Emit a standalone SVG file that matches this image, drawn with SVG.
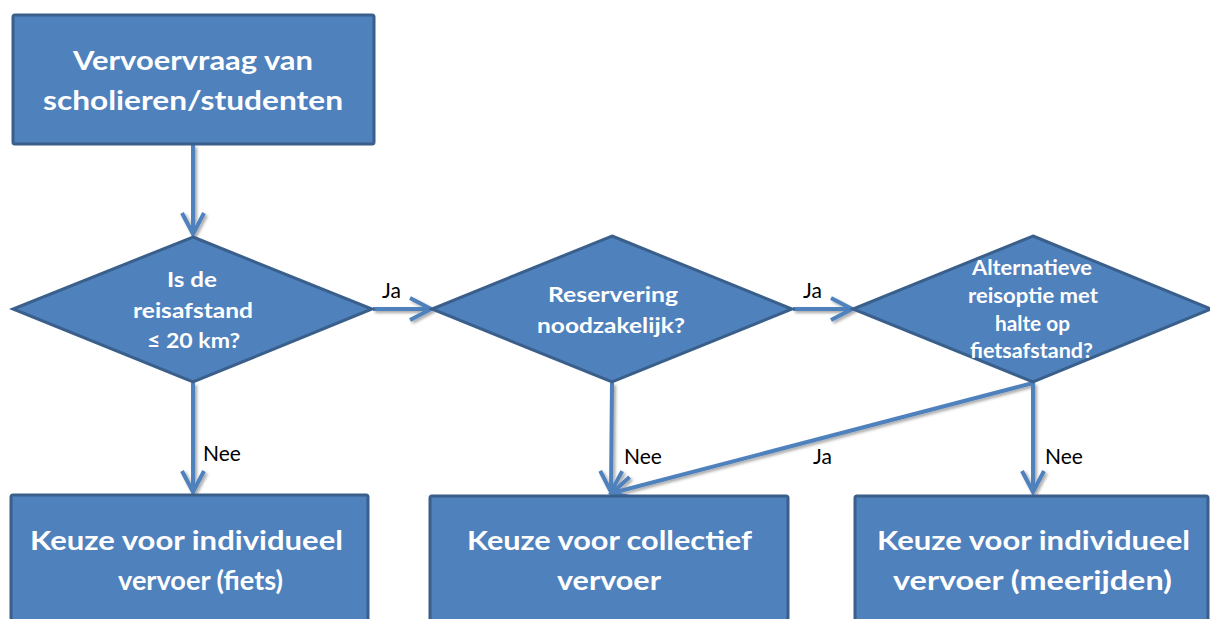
<svg xmlns="http://www.w3.org/2000/svg" width="1210" height="619" viewBox="0 0 1210 619">
  <style>
    .box { fill: #4F81BD; stroke: #3A5F8B; stroke-width: 3; }
    .lbl { font-family: Lato, "Liberation Sans", sans-serif; font-weight: 700; fill: #FFFFFF; }
    .big { font-size: 27px; }
    .mid { font-size: 20px; }
    .note { font-family: Lato, "Liberation Sans", sans-serif; font-size: 21px; fill: #000000; }
    .conn { fill: none; stroke: #4F81BD; stroke-width: 4; marker-end: url(#chev); }
  </style>
  <defs>
    <marker id="chev" markerUnits="userSpaceOnUse" viewBox="-26 -15 30 30" refX="0" refY="0" markerWidth="30" markerHeight="30" orient="auto">
      <path d="M-21,-11 L0,0 L-21,11" fill="none" stroke="#4F81BD" stroke-width="4" stroke-linejoin="miter"/>
    </marker>
    <filter id="shade" x="-20%" y="-20%" width="140%" height="140%">
      <feDropShadow dx="2" dy="2" stdDeviation="1.5" flood-color="#000000" flood-opacity="0.35"/>
    </filter>
  </defs>

  <rect width="1210" height="619" fill="#FFFFFF"/>

  <!-- connectors -->
  <g id="connectors" filter="url(#shade)">
    <path class="conn" d="M193,145 L193,234"/>
    <path class="conn" d="M373,309 L431,309"/>
    <path class="conn" d="M793,309 L852,309"/>
    <path class="conn" d="M193,383 L193,492"/>
    <path class="conn" d="M612,383 L611,492"/>
    <path class="conn" d="M1033,383 L612,493"/>
    <path class="conn" d="M1033,383 L1033,492"/>
  </g>

  <!-- connector labels -->
  <g id="labels">
    <text class="note" x="382" y="298">Ja</text>
    <text class="note" x="803" y="298">Ja</text>
    <text class="note" x="203" y="461">Nee</text>
    <text class="note" x="624" y="464">Nee</text>
    <text class="note" x="813" y="464">Ja</text>
    <text class="note" x="1045" y="464">Nee</text>
  </g>

  <g id="start">
    <rect class="box" x="13" y="15" width="361" height="129" rx="2"/>
    <text class="lbl big" x="73" y="70" textLength="240" lengthAdjust="spacingAndGlyphs">Vervoervraag van</text>
    <text class="lbl big" x="43" y="110" textLength="300" lengthAdjust="spacingAndGlyphs">scholieren/studenten</text>
  </g>

  <g id="afstand">
    <polygon class="box" points="193,237 372,309 193,382 13,309"/>
    <text class="lbl mid" x="167" y="287" textLength="50" lengthAdjust="spacingAndGlyphs">Is de</text>
    <text class="lbl mid" x="133" y="318" textLength="120" lengthAdjust="spacingAndGlyphs">reisafstand</text>
    <text class="lbl mid" x="147" y="348" textLength="93" lengthAdjust="spacingAndGlyphs">≤ 20 km?</text>
  </g>

  <g id="reservering">
    <polygon class="box" points="612,236 792,309 612,382 432,309"/>
    <text class="lbl mid" x="548" y="302" textLength="130" lengthAdjust="spacingAndGlyphs">Reservering</text>
    <text class="lbl mid" x="537" y="333" textLength="148" lengthAdjust="spacingAndGlyphs">noodzakelijk?</text>
  </g>

  <g id="alternatief">
    <polygon class="box" points="1033,236 1211,309 1033,382 853,309"/>
    <text class="lbl mid" x="972" y="275" textLength="120" lengthAdjust="spacingAndGlyphs">Alternatieve</text>
    <text class="lbl mid" x="968" y="303" textLength="130" lengthAdjust="spacingAndGlyphs">reisoptie met</text>
    <text class="lbl mid" x="995" y="331" textLength="75" lengthAdjust="spacingAndGlyphs">halte op</text>
    <text class="lbl mid" x="970" y="358" textLength="123" lengthAdjust="spacingAndGlyphs">fietsafstand?</text>
  </g>

  <g id="fiets">
    <rect class="box" x="11" y="495" width="357" height="140" rx="2"/>
    <text class="lbl big" x="30" y="550" textLength="313" lengthAdjust="spacingAndGlyphs">Keuze voor individueel</text>
    <text class="lbl big" x="118" y="590" textLength="165" lengthAdjust="spacingAndGlyphs">vervoer (fiets)</text>
  </g>

  <g id="collectief">
    <rect class="box" x="430" y="496" width="358" height="140" rx="2"/>
    <text class="lbl big" x="467" y="550" textLength="285" lengthAdjust="spacingAndGlyphs">Keuze voor collectief</text>
    <text class="lbl big" x="557" y="590" textLength="104" lengthAdjust="spacingAndGlyphs">vervoer</text>
  </g>

  <g id="meerijden">
    <rect class="box" x="855" y="496" width="353" height="140" rx="2"/>
    <text class="lbl big" x="877" y="550" textLength="313" lengthAdjust="spacingAndGlyphs">Keuze voor individueel</text>
    <text class="lbl big" x="893" y="590" textLength="279" lengthAdjust="spacingAndGlyphs">vervoer (meerijden)</text>
  </g>
</svg>
